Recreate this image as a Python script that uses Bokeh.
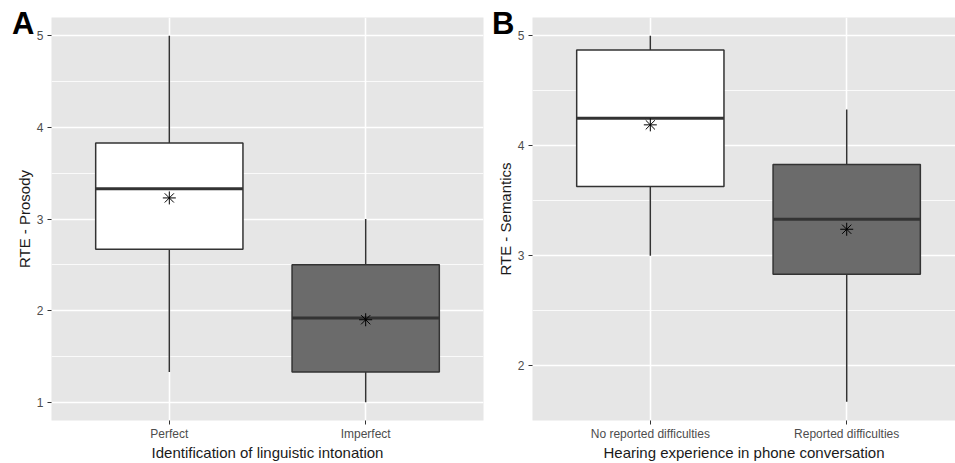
from bokeh.plotting import figure
from bokeh.layouts import row, column
from bokeh.models import Range1d, FixedTicker, ColumnDataSource, Div
from bokeh.embed import file_html
from bokeh.resources import INLINE

# ---- data ----
cats_a = ["Perfect", "Imperfect"]
a_lower = [1.33, 1.00]
a_q1 = [2.67, 1.33]
a_median = [3.33, 1.92]
a_q3 = [3.83, 2.50]
a_upper = [5.00, 3.00]
a_mean = [3.23, 1.90]
a_yticks = [1, 2, 3, 4, 5]
a_yminor = [1.5, 2.5, 3.5, 4.5]

cats_b = ["No reported difficulties", "Reported difficulties"]
b_lower = [3.00, 1.67]
b_q1 = [3.63, 2.83]
b_median = [4.25, 3.33]
b_q3 = [4.87, 3.83]
b_upper = [5.00, 4.33]
b_mean = [4.19, 3.24]
b_yticks = [2, 3, 4, 5]
b_yminor = [2.5, 3.5, 4.5]

fills = ["#FFFFFF", "#6B6B6B"]
panel_letters = ["A", "B"]

FONT = "Liberation Sans"
BOXW = 0.75


def panel(cats, lower, q1, med, q3, upper, mean, yticks, yminor, yr, xr,
          xlabel, ylabel, width, bl, br):
    p = figure(width=width, height=463, output_backend="svg", toolbar_location=None,
               x_range=Range1d(*xr), y_range=Range1d(*yr),
               min_border_left=bl, min_border_right=br, min_border_top=17,
               min_border_bottom=40)
    p.background_fill_color = "#E6E6E6"
    p.border_fill_color = "white"
    p.border_fill_alpha = 0.0
    p.outline_line_color = None

    xs = [i + 1 for i in range(len(cats))]
    src = ColumnDataSource(dict(x=xs, x0=[x - BOXW / 2 for x in xs], x1=[x + BOXW / 2 for x in xs],
                                lower=lower, q1=q1, med=med, q3=q3, upper=upper,
                                mean=mean, fill=fills[:len(cats)]))
    p.segment("x", "q3", "x", "upper", source=src, line_color="#333333", line_width=1.5)
    p.segment("x", "lower", "x", "q1", source=src, line_color="#333333", line_width=1.5)
    p.quad(left="x0", right="x1", bottom="q1", top="q3", source=src,
           fill_color="fill", line_color="#333333", line_width=1.5)
    p.segment("x0", "med", "x1", "med", source=src, line_color="#333333", line_width=3)
    p.scatter("x", "mean", source=src, marker="asterisk", size=13,
              line_color="black", line_width=1)

    p.xaxis.ticker = FixedTicker(ticks=xs)
    p.xaxis.major_label_overrides = {x: c for x, c in zip(xs, cats)}
    p.yaxis.ticker = FixedTicker(ticks=yticks, minor_ticks=yminor)
    for ax in (p.xaxis[0], p.yaxis[0]):
        ax.axis_line_color = None
        ax.major_tick_line_color = "#333333"
        ax.major_tick_out = 4
        ax.major_tick_in = 0
        ax.minor_tick_line_color = None
        ax.major_label_text_color = "#4D4D4D"
        ax.major_label_text_font = FONT
        ax.major_label_text_font_size = "12px"
        ax.axis_label_text_font = FONT
        ax.axis_label_text_font_size = "15px"
        ax.axis_label_text_font_style = "normal"
        ax.axis_label_text_color = "#1A1A1A"
    p.xaxis.major_label_standoff = 2
    p.xaxis.axis_label_standoff = 0
    p.yaxis.major_label_standoff = 4
    p.yaxis.axis_label_standoff = 1
    p.xaxis.axis_label = xlabel
    p.yaxis.axis_label = ylabel

    p.xgrid.grid_line_color = "white"
    p.xgrid.grid_line_width = 1.6
    p.ygrid.grid_line_color = "white"
    p.ygrid.grid_line_width = 1.6
    p.ygrid.minor_grid_line_color = "white"
    p.ygrid.minor_grid_line_width = 0.8
    return p


def letter_div(text, left):
    return Div(text=text, width=30, height=34,
               styles={"position": "absolute", "left": f"{left}px", "top": "8px",
                       "z-index": "10", "font-family": FONT, "font-size": "31px",
                       "font-weight": "bold", "line-height": "1", "color": "black",
                       "margin": "0", "padding": "0"})


pa = panel(cats_a, a_lower, a_q1, a_median, a_q3, a_upper, a_mean, a_yticks, a_yminor,
           (0.8, 5.2), (0.4, 2.6), "Identification of linguistic intonation",
           "RTE - Prosody", 489, 51, 6)
pb = panel(cats_b, b_lower, b_q1, b_median, b_q3, b_upper, b_mean, b_yticks, b_yminor,
           (1.5, 5.1667), (0.4, 2.554), "Hearing experience in phone conversation",
           "RTE - Semantics", 466, 43, 0)

layout = column(letter_div(panel_letters[0], 12), letter_div(panel_letters[1], 492),
                row(pa, pb))
open("out.html", "w").write(file_html(layout, INLINE))
